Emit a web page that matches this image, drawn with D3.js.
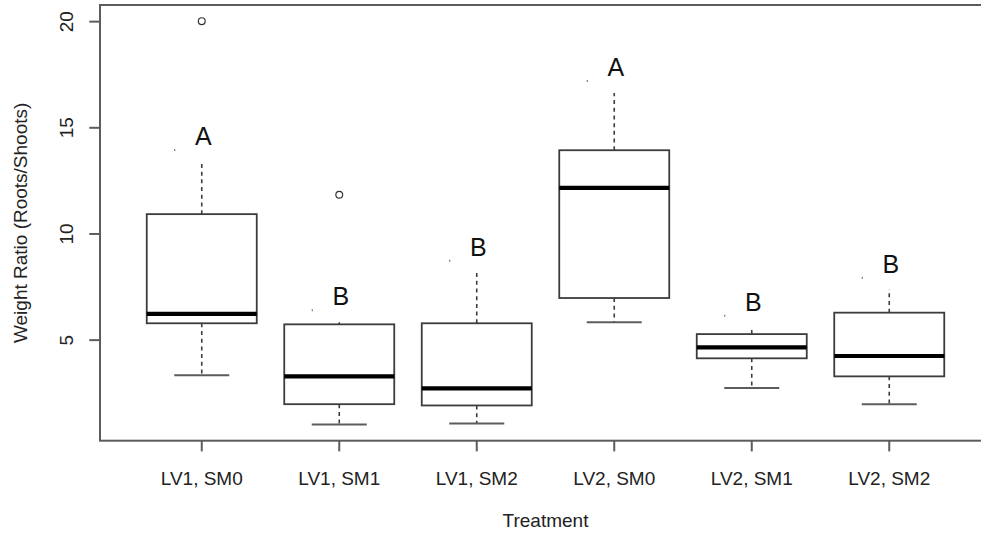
<!DOCTYPE html>
<html>
<head>
<meta charset="utf-8">
<script src="https://cdn.jsdelivr.net/npm/d3@7"></script>
<style>
  html, body { margin: 0; padding: 0; background: #fff; overflow: hidden; }
  svg { display: block; }
  text { font-family: "Liberation Sans", Arial, sans-serif; }
</style>
</head>
<body>
<svg id="chart" width="981" height="535"></svg>
<script>
// Treatment groups and their box-plot summaries (weight ratio, roots / shoots)
const categories   = ["LV1, SM0", "LV1, SM1", "LV1, SM2", "LV2, SM0", "LV2, SM1", "LV2, SM2"];
const lowerWhisker = [3.32, 1.00, 1.05, 5.82, 2.72, 1.96];
const lowerQuartile = [5.77, 1.96, 1.90, 6.96, 4.12, 3.27];
const medians      = [6.21, 3.27, 2.70, 12.15, 4.64, 4.23];
const upperQuartile = [10.91, 5.72, 5.77, 13.92, 5.26, 6.27];
const upperWhisker = [13.93, 6.38, 8.71, 17.18, 6.12, 7.92];
const outliers     = [[20.0], [11.82], [], [], [], []];
// Significance groups written above each box
const groupLetters = ["A", "B", "B", "A", "B", "B"];
const yTickValues  = [5, 10, 15, 20];
const xTitle = "Treatment";
const yTitle = "Weight Ratio (Roots/Shoots)";

const stats = categories.map((c, i) => ({
  cat: c,
  lo: lowerWhisker[i], q1: lowerQuartile[i], med: medians[i],
  q3: upperQuartile[i], hi: upperWhisker[i], out: outliers[i], letter: groupLetters[i]
}));

const svg = d3.select("#chart");
const plot = { left: 100, right: 991, top: 5, bottom: 440.7 };

// y range padded by 4% on either side, as base R does
const allVals = stats.flatMap(d => [d.lo, d.hi, ...d.out]);
const yMin = d3.min(allVals), yMax = d3.max(allVals);
const pad = (yMax - yMin) * 0.04;
const y = d3.scaleLinear().domain([yMin - pad, yMax + pad]).range([plot.bottom, plot.top]);

const x = d3.scaleBand().domain(categories).range([plot.left, plot.right])
  .paddingInner(0.2).paddingOuter(0.34);
const bw = x.bandwidth();
const cx = d => x(d.cat) + bw / 2;

const lineCol = "#3c3c3c";
const frameCol = "#5c5c5c";

// plot frame
svg.append("rect")
  .attr("x", plot.left).attr("y", plot.top)
  .attr("width", plot.right - plot.left).attr("height", plot.bottom - plot.top)
  .attr("fill", "none").attr("stroke", frameCol).attr("stroke-width", 2);

// y axis
const yAxis = svg.append("g")
  .attr("transform", `translate(${plot.left},0)`)
  .call(d3.axisLeft(y).tickValues(yTickValues).tickSize(10.7).tickFormat(d3.format("d")));
yAxis.select(".domain").remove();
yAxis.selectAll(".tick line").attr("stroke", frameCol).attr("stroke-width", 2);
yAxis.selectAll(".tick text")
  .attr("transform", "rotate(-90)")
  .attr("x", 0).attr("y", -27.3).attr("dy", null)
  .attr("text-anchor", "middle")
  .attr("font-size", 19).attr("fill", "#222");

// x axis
const xAxis = svg.append("g")
  .attr("transform", `translate(0,${plot.bottom})`)
  .call(d3.axisBottom(x).tickSize(10.7).tickSizeOuter(0));
xAxis.select(".domain").remove();
xAxis.selectAll(".tick line").attr("stroke", frameCol).attr("stroke-width", 2);
xAxis.selectAll(".tick text")
  .attr("y", 44.3).attr("dy", null)
  .attr("font-size", 19).attr("fill", "#222");

// axis titles
svg.append("text")
  .attr("x", (plot.left + plot.right) / 2).attr("y", 527)
  .attr("text-anchor", "middle").attr("font-size", 19).attr("fill", "#222")
  .text(xTitle);
svg.append("text")
  .attr("transform", `translate(27,${(plot.top + plot.bottom) / 2}) rotate(-90)`)
  .attr("text-anchor", "middle").attr("font-size", 19).attr("fill", "#222")
  .text(yTitle);

// boxes
const g = svg.append("g").selectAll("g").data(stats).join("g");

// dashed whiskers
g.append("line")
  .attr("x1", cx).attr("x2", cx)
  .attr("y1", d => y(d.q3)).attr("y2", d => y(d.hi))
  .attr("stroke", lineCol).attr("stroke-width", 1.6).attr("stroke-dasharray", "4,3.7");
g.append("line")
  .attr("x1", cx).attr("x2", cx)
  .attr("y1", d => y(d.q1)).attr("y2", d => y(d.lo))
  .attr("stroke", lineCol).attr("stroke-width", 1.6).attr("stroke-dasharray", "4,3.7");

// staples, half the box width
g.selectAll("line.staple")
  .data(d => [d.lo, d.hi].map(v => ({ v, c: cx(d) })))
  .join("line").attr("class", "staple")
  .attr("x1", s => s.c - bw / 4).attr("x2", s => s.c + bw / 4)
  .attr("y1", s => y(s.v)).attr("y2", s => y(s.v))
  .attr("stroke", frameCol).attr("stroke-width", 2);

// interquartile box
g.append("rect")
  .attr("x", d => x(d.cat)).attr("width", bw)
  .attr("y", d => y(d.q3)).attr("height", d => y(d.q1) - y(d.q3))
  .attr("fill", "#fff").attr("stroke", lineCol).attr("stroke-width", 1.8);

// median
g.append("line")
  .attr("x1", d => x(d.cat)).attr("x2", d => x(d.cat) + bw)
  .attr("y1", d => y(d.med)).attr("y2", d => y(d.med))
  .attr("stroke", "#000").attr("stroke-width", 4.2);

// outliers
g.selectAll("circle")
  .data(d => d.out.map(v => ({ v, c: cx(d) })))
  .join("circle")
  .attr("cx", o => o.c).attr("cy", o => y(o.v)).attr("r", 3.4)
  .attr("fill", "none").attr("stroke", "#333").attr("stroke-width", 1.2);

// group letters on white label boxes placed over the top whisker
const lab = svg.append("g").selectAll("g").data(stats).join("g")
  .attr("transform", d => `translate(${cx(d)},${y(d.hi) - 5})`);
lab.append("rect")
  .attr("x", -26.5).attr("y", -30).attr("width", 57).attr("height", 47)
  .attr("fill", "#fff");
lab.append("text")
  .attr("x", 1.5).attr("y", 0)
  .attr("text-anchor", "middle")
  .attr("font-family", "'Open Sans', 'Noto Sans', sans-serif")
  .attr("font-size", 25).attr("fill", "#111")
  .text(d => d.letter);
</script>
</body>
</html>
